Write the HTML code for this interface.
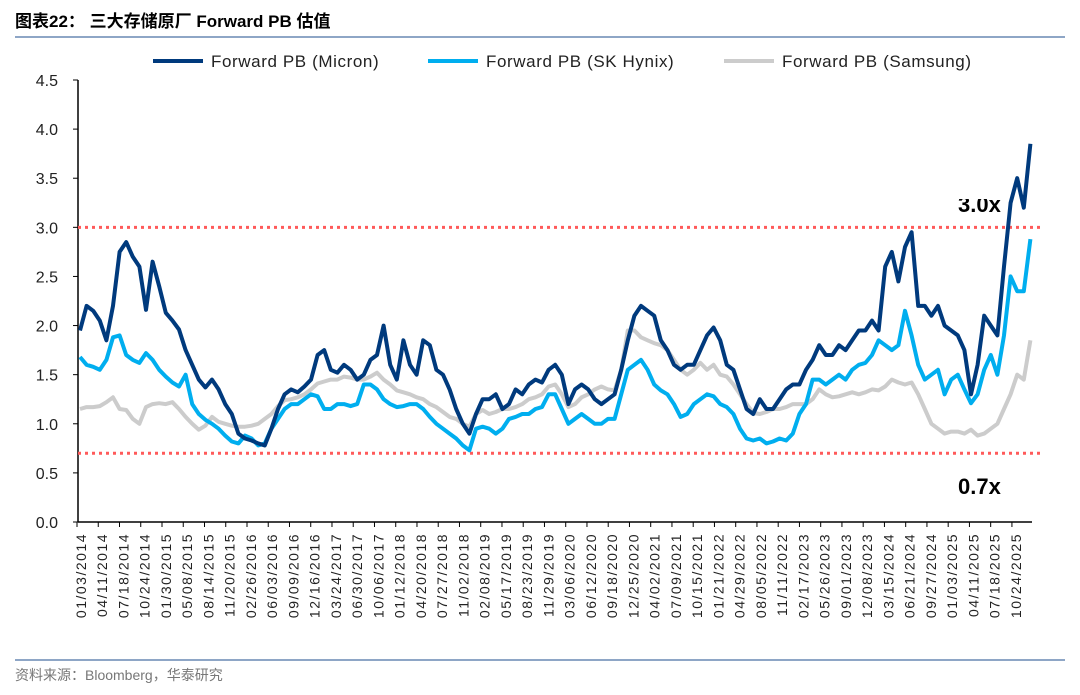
<!DOCTYPE html>
<html><head><meta charset="utf-8"><style>
body{margin:0;background:#fff;}
svg text{font-family:"Liberation Sans","Noto Sans CJK SC",sans-serif;}
</style></head><body>
<svg id="c" width="1080" height="690" viewBox="0 0 1080 690" xmlns="http://www.w3.org/2000/svg">
<text x="15" y="27" font-size="17" font-weight="bold" fill="#000">图表22：  三大存储原厂 Forward PB 估值</text>
<line x1="15" y1="37" x2="1065" y2="37" stroke="#8ea6c6" stroke-width="2"/>
<g>
<g><line x1="153" y1="61" x2="203" y2="61" stroke="#003a7d" stroke-width="4"/><text x="211" y="67" font-size="17" letter-spacing="0.6" fill="#222">Forward PB (Micron)</text></g>
<g><line x1="428" y1="61" x2="478" y2="61" stroke="#00aeef" stroke-width="4"/><text x="486" y="67" font-size="17" letter-spacing="0.6" fill="#222">Forward PB (SK Hynix)</text></g>
<g><line x1="724" y1="61" x2="774" y2="61" stroke="#cccccc" stroke-width="4"/><text x="782" y="67" font-size="17" letter-spacing="0.6" fill="#222">Forward PB (Samsung)</text></g>
</g>
<g id="yaxis"></g>
<g id="xaxis"></g>
<g id="refs"></g>
<text x="958" y="212" font-size="22" font-weight="bold" fill="#000">3.0x</text>
<rect x="955" y="190" width="50" height="9" fill="#fff"/>
<g id="series"></g>
<text x="958" y="494" font-size="22" font-weight="bold" fill="#000">0.7x</text>
<line x1="15" y1="660" x2="1065" y2="660" stroke="#8ea6c6" stroke-width="2"/>
<text x="15" y="680" font-size="14" fill="#777">资料来源：Bloomberg，华泰研究</text>
</svg>
<script>
const yTicks=[0,0.5,1.0,1.5,2.0,2.5,3.0,3.5,4.0,4.5];
const refLevels=[3.0,0.7];
const micron=[1.95,2.2,2.15,2.05,1.85,2.2,2.75,2.85,2.7,2.6,2.16,2.65,
2.4,2.13,2.05,1.96,1.75,1.6,1.45,1.37,1.45,1.35,1.2,1.1,
0.9,0.85,0.83,0.8,0.78,0.95,1.15,1.3,1.35,1.32,1.38,1.45,
1.7,1.75,1.55,1.52,1.6,1.55,1.45,1.5,1.65,1.7,2.0,1.6,
1.45,1.85,1.6,1.5,1.85,1.8,1.55,1.5,1.35,1.15,1.0,0.9,
1.1,1.25,1.25,1.3,1.15,1.2,1.35,1.3,1.4,1.45,1.42,1.55,
1.6,1.5,1.2,1.35,1.4,1.35,1.25,1.2,1.25,1.3,1.55,1.85,
2.1,2.2,2.15,2.1,1.85,1.75,1.6,1.55,1.6,1.6,1.75,1.9,
1.98,1.85,1.6,1.55,1.35,1.15,1.1,1.25,1.15,1.15,1.25,1.35,
1.4,1.4,1.55,1.65,1.8,1.7,1.7,1.8,1.75,1.85,1.95,1.95,
2.05,1.95,2.6,2.75,2.45,2.8,2.95,2.2,2.2,2.1,2.2,2.0,
1.95,1.9,1.75,1.3,1.6,2.1,2.0,1.9,2.6,3.25,3.5,3.2,3.85];
const hynix=[1.68,1.6,1.58,1.55,1.65,1.88,1.9,1.7,1.65,1.62,1.72,1.65,
1.55,1.48,1.42,1.38,1.5,1.2,1.1,1.04,1.0,0.95,0.88,0.82,
0.8,0.88,0.85,0.78,0.8,0.95,1.05,1.15,1.2,1.2,1.25,1.3,
1.28,1.15,1.15,1.2,1.2,1.18,1.2,1.4,1.4,1.35,1.25,1.2,
1.17,1.18,1.2,1.2,1.15,1.07,1.0,0.95,0.9,0.85,0.78,0.73,
0.95,0.97,0.95,0.9,0.95,1.05,1.07,1.1,1.1,1.15,1.17,1.3,
1.3,1.15,1.0,1.05,1.1,1.05,1.0,1.0,1.05,1.05,1.3,1.55,
1.6,1.65,1.55,1.4,1.34,1.3,1.2,1.07,1.1,1.2,1.25,1.3,
1.28,1.2,1.17,1.1,0.95,0.85,0.83,0.85,0.8,0.82,0.85,0.83,
0.9,1.1,1.2,1.45,1.45,1.4,1.45,1.5,1.45,1.55,1.6,1.62,
1.7,1.85,1.8,1.75,1.8,2.15,1.9,1.6,1.45,1.5,1.55,1.3,
1.45,1.5,1.35,1.21,1.3,1.55,1.7,1.5,1.9,2.5,2.35,2.35,2.88];
const samsung=[1.15,1.17,1.17,1.18,1.22,1.27,1.15,1.14,1.05,1.0,1.17,1.2,
1.21,1.2,1.22,1.15,1.07,1.0,0.94,0.98,1.07,1.02,1.0,0.98,
0.97,0.97,0.98,1.0,1.05,1.1,1.18,1.24,1.25,1.27,1.3,1.35,
1.41,1.43,1.45,1.45,1.48,1.47,1.45,1.45,1.48,1.52,1.45,1.4,
1.34,1.32,1.3,1.27,1.25,1.2,1.17,1.12,1.07,1.05,1.0,0.97,
1.1,1.14,1.1,1.12,1.15,1.15,1.17,1.2,1.25,1.27,1.3,1.38,
1.4,1.3,1.17,1.2,1.27,1.3,1.35,1.38,1.35,1.34,1.55,1.95,
1.95,1.88,1.85,1.82,1.8,1.75,1.65,1.55,1.5,1.55,1.62,1.55,
1.6,1.5,1.48,1.4,1.3,1.2,1.11,1.1,1.12,1.15,1.15,1.17,
1.2,1.2,1.2,1.25,1.35,1.3,1.27,1.28,1.3,1.32,1.3,1.32,
1.35,1.34,1.38,1.45,1.42,1.4,1.42,1.3,1.15,1.0,0.95,0.9,
0.92,0.92,0.9,0.94,0.88,0.9,0.95,1.0,1.15,1.3,1.5,1.45,1.85];
const startDate='2014-01-03';
const tickStepDays=98;
const tickCount=45;

const NS='http://www.w3.org/2000/svg';
const X0=80, PXM=6.6, L=78, R=1032, T=80, B=522, YMAX=4.5;
const y=v=>B-(v/YMAX)*(B-T);
const xm=m=>X0+m*PXM;
const t0=new Date(startDate+'T00:00:00Z').getTime();
const xd=d=>X0+((d-t0)/86400000)/30.44*PXM;
function mk(tag,attrs,parent){const e=document.createElementNS(NS,tag);for(const k in attrs)e.setAttribute(k,attrs[k]);parent.appendChild(e);return e;}
const ya=document.getElementById('yaxis');
yTicks.forEach(v=>{
 const t=mk('text',{x:58,y:y(v)+6,'font-size':16,'text-anchor':'end',fill:'#222'},ya);
 t.textContent=v.toFixed(1);
 
 
 const l=mk('line',{x1:L-5,x2:L,y1:y(v),y2:y(v),stroke:'#000','stroke-width':1},ya);
 
 
});
mk('line',{x1:L,x2:L,y1:T,y2:B,stroke:'#000','stroke-width':1.5},ya);
const xa=document.getElementById('xaxis');
mk('line',{x1:L,x2:R,y1:B,y2:B,stroke:'#000','stroke-width':1.5},xa);
for(let i=0;i<tickCount;i++){
 const d=new Date(t0+i*tickStepDays*86400000);
 const s=String(d.getUTCMonth()+1).padStart(2,'0')+'/'+String(d.getUTCDate()).padStart(2,'0')+'/'+d.getUTCFullYear();
 const x=xd(d.getTime());
 const tk=mk('line',{x1:x-3,x2:x-3,y1:B,y2:B+5,stroke:'#000','stroke-width':1},xa);
 
 
 const t=mk('text',{x:0,y:0,'font-size':14,'letter-spacing':'1.5','text-anchor':'end',fill:'#222',transform:`translate(${x+6},533) rotate(-90)`},xa);
 t.textContent=s;
 
 
}
const rf=document.getElementById('refs');
refLevels.forEach(v=>{
 const l=mk('line',{x1:L,x2:R+10,y1:y(v),y2:y(v),stroke:'#ff5a5a','stroke-width':3,'stroke-dasharray':'3,4'},rf);
 
 
});
const sg=document.getElementById('series');
[[samsung,'#cccccc','series-samsung'],[hynix,'#00aeef','series-sk-hynix'],[micron,'#003a7d','series-micron']].forEach(([arr,col,name])=>{
 const p=mk('polyline',{points:arr.map((v,i)=>xm(i).toFixed(1)+','+y(v).toFixed(1)).join(' '),fill:'none',stroke:col,'stroke-width':4,'stroke-linejoin':'round'},sg);
 
 
});
</script>
</body></html>
